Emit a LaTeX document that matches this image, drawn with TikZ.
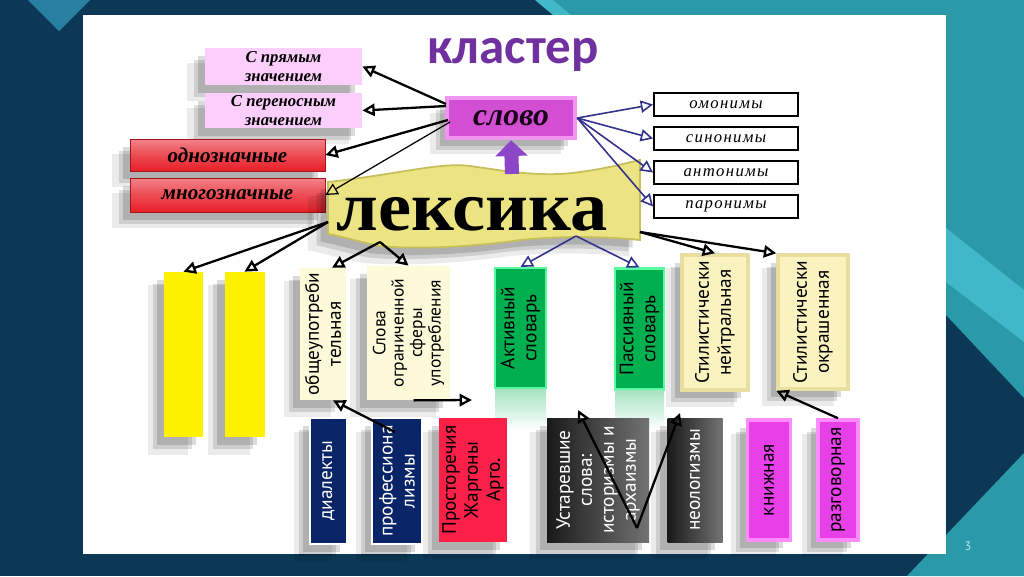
\documentclass[tikz,border=0pt]{standalone}
\usepackage{fontspec}
\setmainfont{Liberation Serif}
\setsansfont{PT Sans}
\newfontfamily\titlefont{Carlito}
\usetikzlibrary{arrows.meta,shadows}
\newlength\pxu
\setlength\pxu{0.02cm}
\definecolor{navybg}{RGB}{12,56,86}
\definecolor{tealbg}{RGB}{42,154,170}
\definecolor{lightteal}{RGB}{64,184,200}
\definecolor{cornertri}{RGB}{40,128,160}
\definecolor{titlepurple}{RGB}{112,48,160}
\definecolor{pinkfill}{RGB}{252,206,252}
\definecolor{redfill}{RGB}{232,30,40}
\definecolor{slovofill}{RGB}{210,78,210}
\definecolor{slovoedge}{RGB}{240,150,240}
\definecolor{uparrow}{RGB}{140,70,200}
\definecolor{linkblue}{RGB}{50,50,140}
\definecolor{bannerfill}{RGB}{236,228,130}
\definecolor{banneredge}{RGB}{200,190,90}
\definecolor{creamA}{RGB}{252,250,216}
\definecolor{creamB}{RGB}{250,243,192}
\definecolor{creamedge}{RGB}{232,222,160}
\definecolor{greenfill}{RGB}{0,176,80}
\definecolor{greenedge}{RGB}{90,250,160}
\definecolor{navybox}{RGB}{10,36,104}
\definecolor{crimson}{RGB}{250,32,72}
\definecolor{magfill}{RGB}{232,64,232}
\definecolor{magedge}{RGB}{255,140,255}
\definecolor{pagenum}{RGB}{190,230,236}
\tikzset{
	box/.style={rectangle, inner sep=0pt, align=center},
	upbox/.style={box, rotate=90, font=\sffamily\fontsize{11}{12.5}\selectfont},
	shadowed/.style={
		drop shadow={shadow xshift=-3mm, shadow yshift=-3mm, opacity=.08, fill=black, shadow scale=1.03},
		drop shadow={shadow xshift=-2.3mm, shadow yshift=-2.3mm, opacity=.12, fill=black},
		drop shadow={shadow xshift=-1.5mm, shadow yshift=-1.5mm, opacity=.14, fill=black}},
	pinkbox/.style={box, fill=pinkfill, shadowed, font=\bfseries\itshape\fontsize{9.5}{10.5}\selectfont},
	redbox/.style={box, top color=redfill!55!white, bottom color=redfill, middle color=redfill!80!white, draw=redfill!70!black, shadowed, font=\bfseries\itshape\fontsize{12}{14}\selectfont},
	wordbox/.style={box, fill=white, draw=black, line width=1.1pt, minimum width=144\pxu, minimum height=23\pxu, font=\itshape\fontsize{9.5}{11}\selectfont\addfontfeatures{LetterSpace=8}},
	link/.style={-{Triangle[open,length=7pt,width=7pt]}, line width=1.3pt, black},
	bluelink/.style={link, draw=linkblue, line width=.9pt},
}
\begin{document}
\begin{tikzpicture}[x=0.02cm, y=-0.02cm]
	\useasboundingbox (0,0) rectangle (1024,576);
	% background
	\fill[navybg] (0,0) rectangle (1024,576);
	\fill[tealbg] (538,0) -- (1024,0) -- (1024,398) -- (946,315) -- (946,15) -- (556,15) -- cycle;
	\fill[tealbg] (1024,453) -- (1024,576) -- (907,576) -- cycle;
	\fill[lightteal] (946,228) -- (1024,290) -- (1024,342) -- (946,282) -- cycle;
	\fill[lightteal] (535,0) -- (553,0) -- (571,15) -- (553,15) -- cycle;
	\fill[cornertri] (28,0) -- (90,0) -- (59,31) -- cycle;
	\fill[white] (83,15) rectangle (946,554);
	\node[text=pagenum, font=\sffamily\fontsize{7}{8}\selectfont] (pg) at (968,546) {3};

	% title
	\node[text=titlepurple, font=\titlefont\bfseries\fontsize{29}{29}\selectfont] (title) at (513,55) {кластер};

	% left column
	\node[pinkbox, minimum width=157\pxu, minimum height=37\pxu] (pr) at (283.5,66.5) {С прямым\\значением};
	\node[pinkbox, minimum width=157\pxu, minimum height=35\pxu] (per) at (283.5,110.5) {С переносным\\значением};
	\node[redbox, minimum width=195\pxu, minimum height=32\pxu] (odn) at (227.5,155) {однозначные};
	\node[redbox, minimum width=195\pxu, minimum height=34\pxu] (mng) at (227.5,195) {многозначные};

	% слово
	\node[box, fill=slovofill, draw=slovoedge, line width=2.5pt, shadowed, minimum width=128\pxu, minimum height=40\pxu,
		text=black!80!violet, font=\bfseries\itshape\fontsize{18}{18}\selectfont] (slovo) at (511,118) {слово};

	% right column
	\node[wordbox] (om) at (726,104.5) {омонимы};
	\node[wordbox] (sin) at (726,138.5) {синонимы};
	\node[wordbox] (ant) at (726,172.5) {антонимы};
	\node[wordbox] (par) at (726,206.5) {паронимы};

	% лексика banner
	\fill[bannerfill, draw=banneredge, line width=1pt, shadowed] (328,182) .. controls (400,174) and (440,162) .. (470,166)
		.. controls (500,170) and (540,178) .. (580,172) .. controls (610,168) and (630,162) .. (640,160)
		-- (640,240) .. controls (600,236) and (560,236) .. (520,240)
		.. controls (480,246) and (420,250) .. (380,246) .. controls (360,242) and (340,236) .. (328,234) -- cycle;
	\node[font=\bfseries\fontsize{40}{40}\selectfont, xscale=1.06] (leks) at (472,214) {лексика};
	\coordinate (bt) at (512,174);
	\coordinate (bl) at (328,222);
	\coordinate (bb) at (380,242);
	\coordinate (bm) at (576,236);
	\coordinate (br) at (640,232);

	% second row
	\node[box, fill=yellow, shadowed, minimum width=39\pxu, minimum height=165\pxu] (y1) at (183.5,354.5) {};
	\node[box, fill=yellow, shadowed, minimum width=40\pxu, minimum height=165\pxu] (y2) at (244.5,354.5) {};
	\node[upbox, fill=creamA, shadowed, minimum width=132\pxu, minimum height=46\pxu] (obsh) at (323,334) {общеупотреби\\тельная};
	\node[upbox, fill=creamA, shadowed, minimum width=134\pxu, minimum height=83\pxu, font=\sffamily\fontsize{10}{10.5}\selectfont] (sogr) at (408.5,333) {Слова\\ограниченной\\сферы\\употребления};
	\node[upbox, fill=greenfill, draw=greenedge, line width=1.2pt, minimum width=120\pxu, minimum height=51\pxu] (akt) at (520.5,328) {Активный\\словарь};
	\node[upbox, fill=greenfill, draw=greenedge, line width=1.2pt, minimum width=121\pxu, minimum height=49\pxu] (pass) at (639.5,329) {Пассивный\\словарь};
	\shade[top color=greenfill!35!white, bottom color=white] (495,389) rectangle (546,430);
	\shade[top color=greenfill!35!white, bottom color=white] (615,390) rectangle (664,430);
	\node[upbox, fill=creamB, draw=creamedge, line width=2pt, shadowed, minimum width=135\pxu, minimum height=66\pxu] (neit) at (715,322.5) {Стилистически\\нейтральная};
	\node[upbox, fill=creamB, draw=creamedge, line width=2pt, shadowed, minimum width=134\pxu, minimum height=70\pxu] (okr) at (813,322) {Стилистически\\окрашенная};

	% bottom row
	\node[upbox, fill=navybox, draw=white, line width=1.2pt, text=white, shadowed, minimum width=126\pxu, minimum height=37\pxu] (dial) at (328.5,481) {диалекты};
	\node[upbox, fill=navybox, draw=white, line width=1.2pt, text=white, shadowed, minimum width=126\pxu, minimum height=50\pxu] (prof) at (397,481) {профессиона\\лизмы};
	\node[upbox, fill=crimson, shadowed, minimum width=124\pxu, minimum height=68\pxu] (prost) at (473,480) {Просторечия\\Жаргоны\\Арго.};
	\node[upbox, left color=black!90, right color=black!55, text=white, shadowed, minimum width=124\pxu, minimum height=102\pxu] (ust) at (598,480) {Устаревшие\\слова:\\историзмы и\\архаизмы};
	\node[upbox, left color=black!90, right color=black!55, text=white, shadowed, minimum width=124\pxu, minimum height=55\pxu] (neol) at (695,480) {неологизмы};
	\node[upbox, fill=magfill, draw=magedge, line width=2pt, shadowed, minimum width=120\pxu, minimum height=43\pxu] (knizh) at (769,480) {книжная};
	\node[upbox, fill=magfill, draw=magedge, line width=2pt, shadowed, minimum width=120\pxu, minimum height=40\pxu] (razg) at (838,480) {разговорная};
	\coordinate (vb) at (637,528);
	\coordinate (vl) at (578,410);
	\coordinate (vr) at (680,413);
	\coordinate (fr) at (472,400);
	\coordinate (pa) at (395,432);

	% connectors
	\draw[uparrow, line width=8pt, -{Triangle[length=9pt,width=18pt]}] (bt) -- (slovo.south);
	\draw[link] (446,104) -- (pr.east);
	\draw[link] (446,106) -- (per.east);
	\draw[link] (448,120) -- (odn.east);
	\draw[link, line width=.7pt] (450,122) -- (mng.east);
	\draw[bluelink] (slovo.east) -- (om.west);
	\draw[bluelink] (slovo.east) -- (sin.west);
	\draw[bluelink] (slovo.east) -- (ant.west);
	\draw[bluelink] (slovo.east) -- (par.west);
	\draw[link] (bl) -- (y1.north);
	\draw[link] (bl) -- (y2.north);
	\draw[link] (bb) -- ([xshift=9\pxu]obsh.east);
	\draw[link] (bb) -- (sogr.east);
	\draw[bluelink] (bm) -- (akt.east);
	\draw[bluelink] (bm) -- (pass.east);
	\draw[link] (br) -- (neit.east);
	\draw[link] (br) -- (okr.north east);
	\draw[link] (pa) -- ([xshift=10\pxu]obsh.west);
	\draw[link] ([xshift=5\pxu]sogr.west) -- (fr);
	\draw[link] (vb) -- (vl);
	\draw[link] (vb) -- (vr);
	\draw[link] (razg.east) -- (okr.north west);
\end{tikzpicture}
\end{document}
